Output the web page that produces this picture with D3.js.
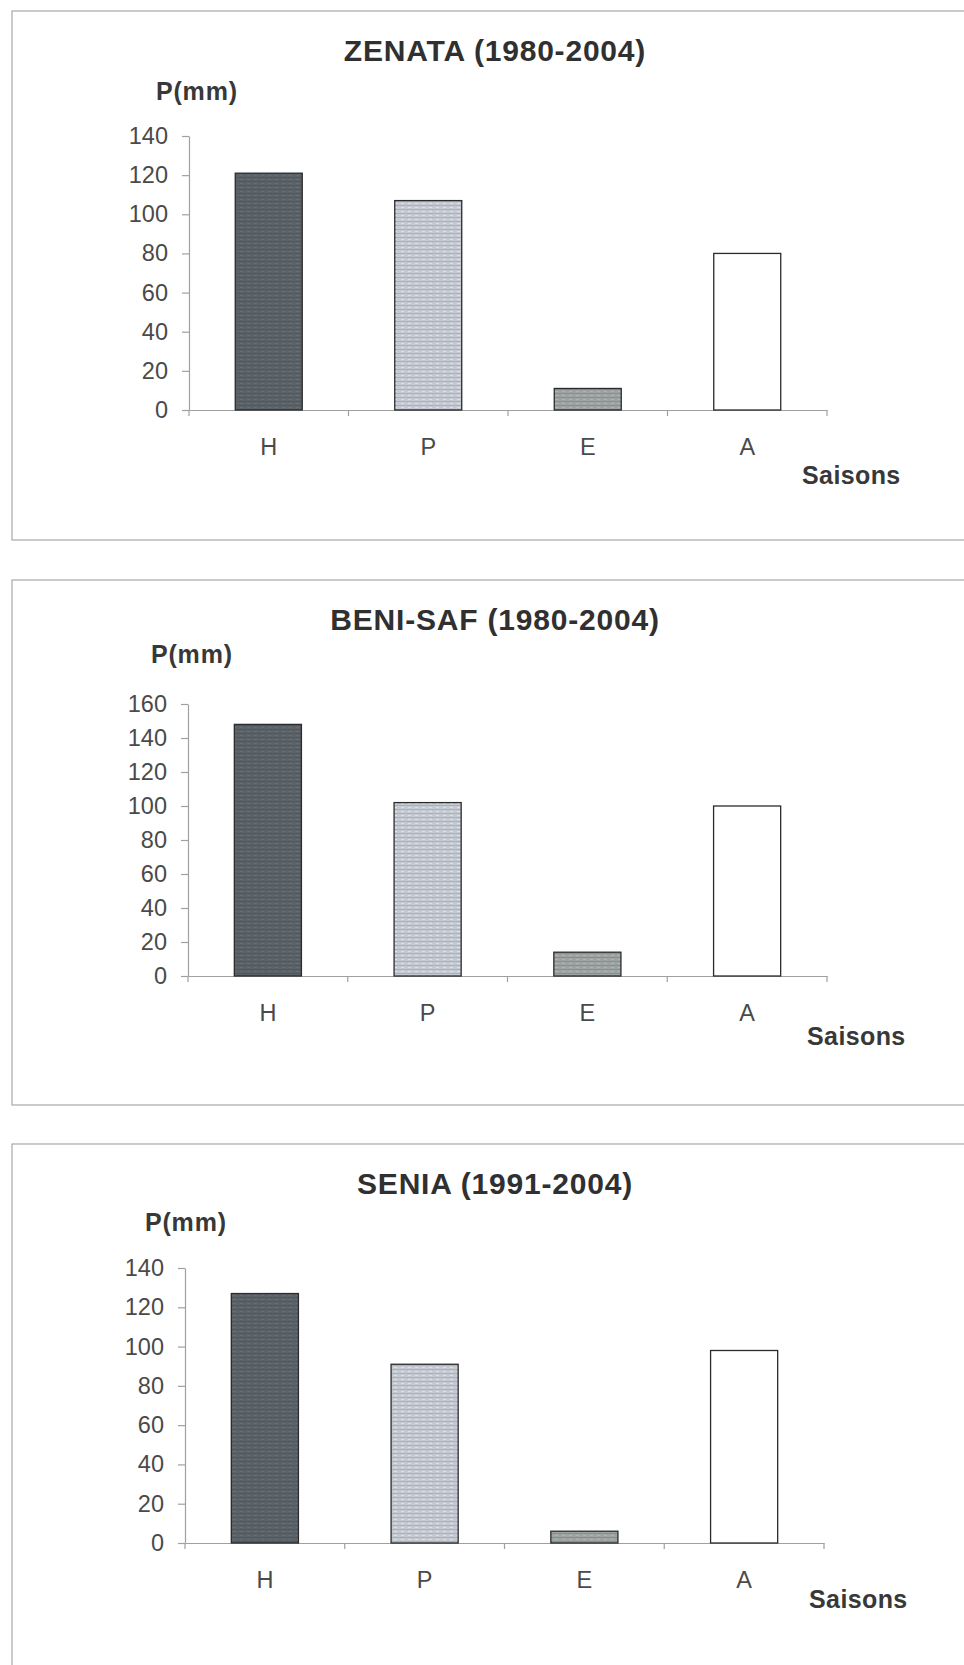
<!DOCTYPE html>
<html>
<head>
<meta charset="utf-8">
<script src="https://cdn.jsdelivr.net/npm/d3@7"></script>
<style>
  body { margin: 0; background: #fff; }
  svg { display: block; font-family: "Liberation Sans", Arial, sans-serif; }
  .panel-frame { fill: none; stroke: #a8a8a8; stroke-width: 1.2; }
  .title { font-size: 30px; font-weight: bold; fill: #303030; letter-spacing: 0.8px; }
  .unit, .x-title { font-size: 25px; font-weight: bold; fill: #383838; }
  .unit { letter-spacing: 0.8px; }
  .x-title { letter-spacing: 0.4px; }
  .axis .domain, .axis line, .bound-tick { stroke: #a0a0a0; stroke-width: 1.2; }
  .axis text { font-family: "Liberation Sans", Arial, sans-serif; font-size: 23.5px; fill: #4a4a4a; }
  .bar { stroke: #2b2b2b; stroke-width: 1.3; }
</style>
</head>
<body>
<script>
/* global d3 */

// seasonal rainfall
let SEASONS = ['H', 'P', 'E', 'A']
let STATION_TITLES = ['ZENATA (1980-2004)', 'BENI-SAF (1980-2004)', 'SENIA (1991-2004)']
let ZENATA_P = [121, 107, 11, 80]
let BENI_SAF_P = [148, 102, 14, 100]
let SENIA_P = [127, 91, 6, 98]
let TICKS_140 = [0, 20, 40, 60, 80, 100, 120, 140]
let TICKS_160 = [0, 20, 40, 60, 80, 100, 120, 140, 160]
let Y_LABEL = 'P(mm)'
let X_LABEL = 'Saisons'

let STATION_VALUES = [ZENATA_P, BENI_SAF_P, SENIA_P]
let STATION_TICKS = [TICKS_140, TICKS_160, TICKS_140]

let SEASON_FILLS = {H: '#5b6369', P: '#c5c9d1', E: '#9ca3a2', A: '#ffffff'}

let PANEL_LAYOUTS = [
  {top: 11, bottom: 540, left: 189, right: 827, plotTop: 136, plotBottom: 410,
    unitX: 156, unitY: 100, xTitleX: 802, xTitleY: 484},
  {top: 580, bottom: 1105, left: 188, right: 827, plotTop: 704, plotBottom: 976,
    unitX: 151, unitY: 663, xTitleX: 807, xTitleY: 1045},
  {top: 1144, bottom: 1720, left: 185, right: 824, plotTop: 1268, plotBottom: 1543,
    unitX: 145, unitY: 1231, xTitleX: 809, xTitleY: 1608},
]

let WIDTH = 964
let HEIGHT = 1665

function main () {
  let svg = d3.select('body').append('svg')
    .attr('width', WIDTH)
    .attr('height', HEIGHT)
  svg.append('rect').attr('width', WIDTH).attr('height', HEIGHT).attr('fill', '#fff')
  genPatterns(svg)
  STATION_TITLES.forEach((title, i) => {
    drawPanel(svg, {
      title,
      values: STATION_VALUES[i],
      ticks: STATION_TICKS[i],
      layout: PANEL_LAYOUTS[i],
    })
  })
}

// scanned fills have faint horizontal streaks, fake them with a stripe pattern
function genPatterns (svg) {
  let defs = svg.append('defs')
  for (let season of SEASONS) {
    let base = SEASON_FILLS[season]
    let pattern = defs.append('pattern')
      .attr('id', `fill-${season}`)
      .attr('patternUnits', 'userSpaceOnUse')
      .attr('width', 7)
      .attr('height', 4)
    pattern.append('rect').attr('width', 7).attr('height', 4).attr('fill', base)
    if (season === 'A') continue
    pattern.append('rect')
      .attr('y', 1).attr('width', 7).attr('height', 1)
      .attr('fill', d3.color(base).darker(0.35))
    pattern.append('rect')
      .attr('x', 2).attr('y', 3).attr('width', 3).attr('height', 1)
      .attr('fill', d3.color(base).brighter(0.3))
  }
}

function drawPanel (svg, {title, values, ticks, layout}) {
  let g = svg.append('g').attr('class', 'panel')

  g.append('rect')
    .attr('class', 'panel-frame')
    .attr('x', 12)
    .attr('y', layout.top)
    .attr('width', WIDTH + 40)
    .attr('height', layout.bottom - layout.top)

  g.append('text')
    .attr('class', 'title')
    .attr('x', 495)
    .attr('y', layout.top + 50)
    .attr('text-anchor', 'middle')
    .text(title)

  g.append('text')
    .attr('class', 'unit')
    .attr('x', layout.unitX)
    .attr('y', layout.unitY)
    .text(Y_LABEL)

  g.append('text')
    .attr('class', 'x-title')
    .attr('x', layout.xTitleX)
    .attr('y', layout.xTitleY)
    .text(X_LABEL)

  let x = d3.scaleBand()
    .domain(SEASONS)
    .range([layout.left, layout.right])
    .padding(0)
  let y = d3.scaleLinear()
    .domain([0, d3.max(ticks)])
    .range([layout.plotBottom, layout.plotTop])

  g.append('g')
    .attr('class', 'axis y-axis')
    .attr('transform', `translate(${layout.left},0)`)
    .call(d3.axisLeft(y).tickValues(ticks).tickSize(7).tickSizeOuter(0).tickPadding(14))

  let xAxis = g.append('g')
    .attr('class', 'axis x-axis')
    .attr('transform', `translate(0,${layout.plotBottom})`)
    .call(d3.axisBottom(x).tickSize(0).tickPadding(28))
  xAxis.selectAll('.tick line').remove()

  // Excel-style ticks sit on the category boundaries
  let bounds = [...SEASONS.map(s => x(s)), x.range()[1]]
  xAxis.selectAll('.bound-tick')
    .data(bounds)
    .join('line')
    .attr('class', 'bound-tick')
    .attr('x1', d => d).attr('x2', d => d)
    .attr('y1', 0).attr('y2', 6)

  let barWidth = x.bandwidth() * 0.42
  g.append('g')
    .attr('class', 'bars')
    .selectAll('rect')
    .data(SEASONS.map((s, i) => ({season: s, value: values[i]})))
    .join('rect')
    .attr('class', 'bar')
    .attr('x', d => x(d.season) + (x.bandwidth() - barWidth) / 2)
    .attr('y', d => y(d.value))
    .attr('width', barWidth)
    .attr('height', d => y(0) - y(d.value))
    .attr('fill', d => `url(#fill-${d.season})`)
}

main()
</script>
</body>
</html>
